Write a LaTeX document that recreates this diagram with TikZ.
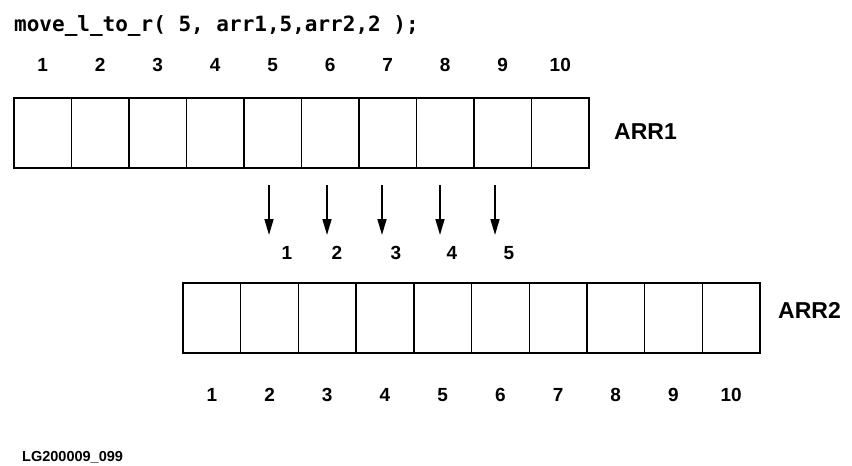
\documentclass[tikz,border=0pt]{standalone}
\usepackage{fontspec}
\setmainfont{Liberation Sans}
\newfontfamily\codefont{DejaVu Sans Mono}
\usepackage{tikz}
\usetikzlibrary{arrows.meta, positioning}
\tikzstyle{cell}    = [draw, line width=1.2pt, minimum width=57.5pt, minimum height=70pt,
                       inner sep=0pt, outer sep=0pt]
\tikzstyle{idx}     = [font=\fontsize{19}{19}\selectfont\bfseries, inner sep=0pt]
\tikzstyle{arrname} = [font=\fontsize{23}{23}\selectfont\bfseries, anchor=west, inner sep=0pt]
\tikzstyle{frame}   = [line width=2.6pt]
\tikzstyle{arrow}   = [line width=1.6pt, -{Triangle[length=16pt,width=9pt]}]

\begin{document}
\begin{tikzpicture}[x=1pt, y=-1pt]
  \useasboundingbox (0,0) rectangle (852,466);

  \node[font=\codefont\fontsize{21}{21}\selectfont\bfseries, anchor=west, inner sep=0pt]
    (call) at (14,26) {move\_l\_to\_r( 5, arr1,5,arr2,2 );};

  % first array
  \foreach \i in {1,...,10} {
    \node[cell] (a\i) at ({14+57.5*(\i-0.5)},133) {};
    \node[idx] (ta\i) at ({14+57.5*(\i-0.5)},65) {\i};
  }
  \draw[frame] (a1.north west) rectangle (a10.south east);
  \node[arrname] (arr1) at (614,132) {ARR1};

  % moved elements
  \foreach \x/\k in {269/1,327/2,382/3,440/4,495/5} {
    \coordinate (from\k) at (\x,185);
    \coordinate (to\k) at (\x,235);
    \draw[arrow] (from\k) -- (to\k);
  }
  \foreach \x/\k in {287/1,337/2,396/3,452/4,509/5} {
    \node[idx] (m\k) at (\x,253) {\k};
  }

  % second array
  \foreach \i in {1,...,10} {
    \node[cell] (b\i) at ({183+57.7*(\i-0.5)},318) {};
    \node[idx] (tb\i) at ({183+57.7*(\i-0.5)},395) {\i};
  }
  \draw[frame] (b1.north west) rectangle (b10.south east);
  \node[arrname] (arr2) at (778,310) {ARR2};

  \node[font=\fontsize{14.5}{14.5}\selectfont\bfseries, anchor=west, inner sep=0pt]
    (fig) at (22,457) {LG200009\_099};
\end{tikzpicture}
\end{document}
